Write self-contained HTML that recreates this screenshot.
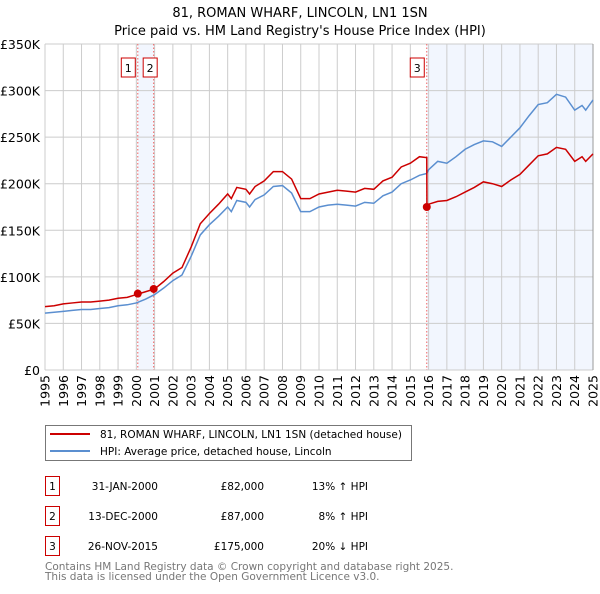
<!DOCTYPE html>
<html><head><meta charset="utf-8"><style>
body{margin:0;background:#fff;font-family:"DejaVu Sans","Liberation Sans",sans-serif;}
svg text{font-family:"DejaVu Sans","Liberation Sans",sans-serif;}
</style></head><body>
<svg id="c" width="600" height="590" xmlns="http://www.w3.org/2000/svg">
<text x="300" y="17" text-anchor="middle" font-size="13">81, ROMAN WHARF, LINCOLN, LN1 1SN</text>
<text x="300" y="35" text-anchor="middle" font-size="13">Price paid vs. HM Land Registry's House Price Index (HPI)</text>
<g id="plot"></g>
<rect x="45.5" y="425.5" width="366" height="35" fill="#fff" stroke="#777"/>
<line x1="50" y1="434" x2="90" y2="434" stroke="#cc0000" stroke-width="2"/>
<text x="100" y="438" font-size="10.5">81, ROMAN WHARF, LINCOLN, LN1 1SN (detached house)</text>
<line x1="50" y1="451" x2="90" y2="451" stroke="#5b8fd0" stroke-width="2"/>
<text x="100" y="455" font-size="10.5">HPI: Average price, detached house, Lincoln</text>
<g font-size="10.5">
<rect x="45.5" y="476.5" width="14" height="19" fill="none" stroke="#cc0000"/><text x="52.5" y="490" text-anchor="middle">1</text>
<text x="158" y="490" text-anchor="end">31-JAN-2000</text><text x="264" y="490" text-anchor="end">£82,000</text><text x="368" y="490" text-anchor="end">13% ↑ HPI</text>
<rect x="45.5" y="506.5" width="14" height="19" fill="none" stroke="#cc0000"/><text x="52.5" y="520" text-anchor="middle">2</text>
<text x="158" y="520" text-anchor="end">13-DEC-2000</text><text x="264" y="520" text-anchor="end">£87,000</text><text x="368" y="520" text-anchor="end">8% ↑ HPI</text>
<rect x="45.5" y="536.5" width="14" height="19" fill="none" stroke="#cc0000"/><text x="52.5" y="550" text-anchor="middle">3</text>
<text x="158" y="550" text-anchor="end">26-NOV-2015</text><text x="264" y="550" text-anchor="end">£175,000</text><text x="368" y="550" text-anchor="end">20% ↓ HPI</text>
</g>
<text x="45" y="570" font-size="10.5" fill="#777">Contains HM Land Registry data © Crown copyright and database right 2025.</text>
<text x="45" y="580" font-size="10.5" fill="#777">This data is licensed under the Open Government Licence v3.0.</text>
</svg>
<script>
const dates=[1995,1995.5,1996,1996.5,1997,1997.5,1998,1998.5,1999,1999.5,2000,2000.5,2001,2001.5,2002,2002.5,2003,2003.5,2004,2004.5,2005,2005.2,2005.5,2006,2006.2,2006.5,2007,2007.5,2008,2008.5,2009,2009.5,2010,2010.5,2011,2011.5,2012,2012.5,2013,2013.5,2014,2014.5,2015,2015.5,2015.9,2016,2016.5,2017,2017.5,2018,2018.5,2019,2019.5,2020,2020.5,2021,2021.5,2022,2022.5,2023,2023.5,2024,2024.4,2024.6,2025];
const hpi=[61,62,63,64,65,65,66,67,69,70,72,76,81,88,96,102,122,145,156,165,175,170,182,180,175,183,188,197,198,190,170,170,175,177,178,177,176,180,179,187,191,200,204,209,211,215,224,222,229,237,242,246,245,240,250,260,273,285,287,296,293,279,284,279,290];
const propDates=[1995,1995.5,1996,1996.5,1997,1997.5,1998,1998.5,1999,1999.5,2000,2000.5,2001,2001.5,2002,2002.5,2003,2003.5,2004,2004.5,2005,2005.2,2005.5,2006,2006.2,2006.5,2007,2007.5,2008,2008.5,2009,2009.5,2010,2010.5,2011,2011.5,2012,2012.5,2013,2013.5,2014,2014.5,2015,2015.5,2015.9,2015.91,2016,2016.5,2017,2017.5,2018,2018.5,2019,2019.5,2020,2020.5,2021,2021.5,2022,2022.5,2023,2023.5,2024,2024.4,2024.6,2025];
const prop=[68,69,71,72,73,73,74,75,77,78,81,84,87,95,104,110,132,157,168,178,189,184,196,194,189,197,203,213,213,205,184,184,189,191,193,192,191,195,194,203,207,218,222,229,228,175,178,181,182,186,191,196,202,200,197,204,210,220,230,232,239,237,224,229,224,232];
const saleDates=[2000.08,2000.95,2015.9];
const salePrices=[82,87,175];
const saleLabels=["1","2","3"];
const yTicks=[0,50,100,150,200,250,300,350];
const yTickLabels=["£0","£50K","£100K","£150K","£200K","£250K","£300K","£350K"];
const xTicks=[1995,1996,1997,1998,1999,2000,2001,2002,2003,2004,2005,2006,2007,2008,2009,2010,2011,2012,2013,2014,2015,2016,2017,2018,2019,2020,2021,2022,2023,2024,2025];

const X0=45,X1=593,Y0=370,Y1=44;
const xs=d=>X0+(d-1995)/30*(X1-X0);
const ys=v=>Y0-v/350*(Y0-Y1);
const NS="http://www.w3.org/2000/svg";
const g=document.getElementById('plot');
function mk(t,a,p){const e=document.createElementNS(NS,t);for(const k in a)e.setAttribute(k,a[k]);(p||g).appendChild(e);return e;}
let s=mk('rect',{x:xs(saleDates[0]),y:Y1,width:xs(saleDates[1])-xs(saleDates[0]),height:Y0-Y1,fill:'#f2f6fe'});


s=mk('rect',{x:xs(saleDates[2]),y:Y1,width:X1-xs(saleDates[2]),height:Y0-Y1,fill:'#f2f6fe'});


yTicks.forEach((v,i)=>{
 const l=mk('line',{x1:X0,x2:X1,y1:ys(v),y2:ys(v),stroke:'#ccc'});
 
 
 const t=mk('text',{x:40,y:ys(v)+5,'text-anchor':'end','font-size':'12.5'});
 t.textContent=yTickLabels[i];
 
 
});
xTicks.forEach(d=>{
 const l=mk('line',{x1:xs(d),x2:xs(d),y1:Y1,y2:Y0,stroke:'#ccc'});
 
 
 const t=mk('text',{x:0,y:0,'text-anchor':'end','font-size':'12.5',transform:`translate(${xs(d)+4.5},375) rotate(-90)`});
 t.textContent=d;
 
 
});
saleDates.forEach((d,i)=>{
 const l=mk('line',{x1:xs(d),x2:xs(d),y1:Y1,y2:Y0,stroke:'#f06060',"stroke-dasharray":'1.5,2','stroke-width':1});
 
 
 const bx=i==1?xs(d)-4:xs(d)-10;
 const r=mk('rect',{x:bx-6.5,y:58,width:14,height:19,fill:'#fff',stroke:'#cc0000'});
 
 
 const t=mk('text',{x:bx+0.5,y:72,'text-anchor':'middle','font-size':'11'});
 t.textContent=saleLabels[i];
 
 
});
const bl=mk('line',{x1:X1,x2:X1,y1:Y1,y2:Y0,stroke:'#999'});


const hp=mk('polyline',{points:dates.map((d,i)=>xs(d)+','+ys(hpi[i])).join(' '),fill:'none',stroke:'#5b8fd0','stroke-width':1.5});


const pp=mk('polyline',{points:propDates.map((d,i)=>xs(d)+','+ys(prop[i])).join(' '),fill:'none',stroke:'#cc0000','stroke-width':1.5});


saleDates.forEach((d,i)=>{
 const c=mk('circle',{cx:xs(d),cy:ys(salePrices[i]),r:4,fill:'#cc0000'});
 
 
});
</script>
</body></html>
